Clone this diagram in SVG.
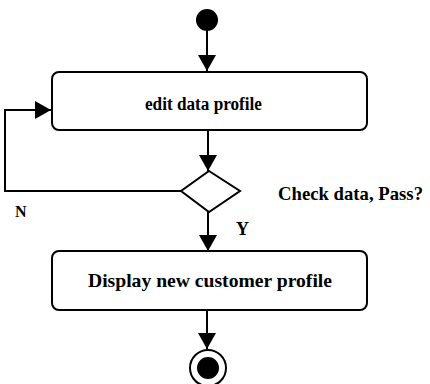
<svg xmlns="http://www.w3.org/2000/svg" width="430" height="384" viewBox="0 0 430 384">
<defs>
<marker id="arr" markerUnits="userSpaceOnUse" markerWidth="18" markerHeight="18" refX="16" refY="9" orient="auto">
<path d="M0,0 L16,9 L0,18 Z" fill="#000"/>
</marker>
<style>
.box{fill:#fff;stroke:#000;stroke-width:2}
.ln{fill:none;stroke:#000;stroke-width:2;marker-end:url(#arr)}
.t{font-family:"Liberation Serif","DejaVu Serif",serif;font-weight:bold;fill:#000}
</style>
</defs>
<rect width="430" height="384" fill="#fff"/>
<g id="connectors">
<path class="ln" d="M207,31 L207,71"/>
<path class="ln" d="M208,130 L208,171"/>
<path class="ln" d="M181,191 L5,191 L5,110 L51,110"/>
<path class="ln" d="M208,212 L208,251"/>
<path class="ln" d="M207,310 L207,349"/>
</g>
<g id="start"><circle cx="207" cy="20" r="11" fill="#000"/></g>
<g id="edit">
<rect class="box" x="52" y="72" width="315" height="58" rx="7"/>
<text class="t" x="203.5" y="110" font-size="18" text-anchor="middle" textLength="117" lengthAdjust="spacingAndGlyphs">edit data profile</text>
</g>
<g id="decision">
<polygon class="box" points="209,171 240,191 209,212 181,191"/>
<text class="t" x="278" y="200" font-size="19" textLength="145" lengthAdjust="spacingAndGlyphs">Check data, Pass?</text>
<text class="t" x="15" y="217" font-size="16">N</text>
<text class="t" x="236" y="235" font-size="18">Y</text>
</g>
<g id="display">
<rect class="box" x="52" y="251" width="315" height="59" rx="7"/>
<text class="t" x="210" y="287" font-size="19" text-anchor="middle" textLength="244" lengthAdjust="spacingAndGlyphs">Display new customer profile</text>
</g>
<g id="end">
<circle cx="208" cy="368" r="18" fill="#fff" stroke="#000" stroke-width="2"/>
<circle cx="208" cy="368" r="11" fill="#000"/>
</g>
</svg>
